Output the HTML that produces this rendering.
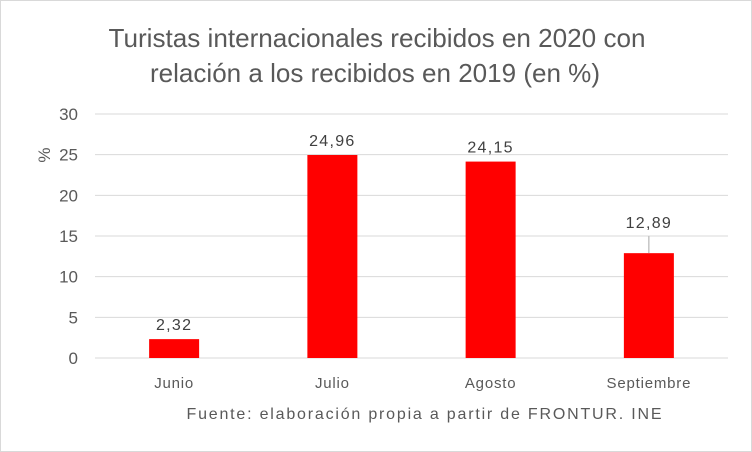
<!DOCTYPE html>
<html><head><meta charset="utf-8"><style>
body{margin:0;background:#fff}
svg{display:block;font-family:"Liberation Sans",sans-serif}
</style></head><body>
<svg id="c" width="752" height="452">
<rect x="0.5" y="0.5" width="751" height="451" fill="#fff" stroke="#d9d9d9"/>
<text x="377" y="47" text-anchor="middle" font-size="26" fill="#595959" textLength="537" lengthAdjust="spacingAndGlyphs">Turistas internacionales recibidos en 2020 con</text>
<text x="375" y="82" text-anchor="middle" font-size="26" fill="#595959" textLength="450" lengthAdjust="spacingAndGlyphs">relación a los recibidos en 2019 (en %)</text>
<text transform="translate(50,155) rotate(-90)" text-anchor="middle" font-size="17" fill="#595959">%</text>
<text x="424" y="419" text-anchor="middle" font-size="16" fill="#595959" textLength="475" lengthAdjust="spacing">Fuente: elaboración propia a partir de FRONTUR. INE</text>
<g id="grid"></g><g id="bars"></g>
</svg>
<script>
const categories=["Junio","Julio","Agosto","Septiembre"];
const values=[2.32,24.96,24.15,12.89];
const valueLabels=["2,32","24,96","24,15","12,89"];
const yTicks=[0,5,10,15,20,25,30];
const ns="http://www.w3.org/2000/svg";
const L=95,R=728,T=114,B=358,yMax=30;
const y=v=>B-(v/yMax)*(B-T);
const step=(R-L)/categories.length;
const xc=i=>L+step*(i+0.5);
const bw=50;
function mk(t,a,p){const e=document.createElementNS(ns,t);for(const k in a)e.setAttribute(k,a[k]);p.appendChild(e);return e;}
const g=document.getElementById('grid'),b=document.getElementById('bars');
yTicks.forEach(t=>{
 const l=mk('line',{x1:L,x2:R,y1:y(t),y2:y(t),stroke:'#d9d9d9','stroke-width':1},g);
 
 
 const tx=mk('text',{x:78,y:y(t)+6,'text-anchor':'end','font-size':17,fill:'#595959'},g);
 tx.textContent=t;
 
 
});
categories.forEach((c,i)=>{
 const r=mk('rect',{x:xc(i)-bw/2,y:y(values[i]),width:bw,height:B-y(values[i]),fill:'#ff0000'},b);
 
 
 const ct=mk('text',{x:xc(i),y:388,'text-anchor':'middle','font-size':15,'letter-spacing':0.8,fill:'#595959'},b);
 ct.textContent=c;
 
 
 let ly=y(values[i])-9;
 if(i===3){ly=y(values[i])-18;
  const ln=mk('line',{x1:xc(i),x2:xc(i),y1:ly+1,y2:y(values[i]),stroke:'#a6a6a6','stroke-width':1},b);
  
  
  ly-=7;
 }
 const vt=mk('text',{x:xc(i),y:ly,'text-anchor':'middle','font-size':16,'letter-spacing':1.3,fill:'#404040'},b);
 vt.textContent=valueLabels[i];
 
 
});
</script>
</body></html>
